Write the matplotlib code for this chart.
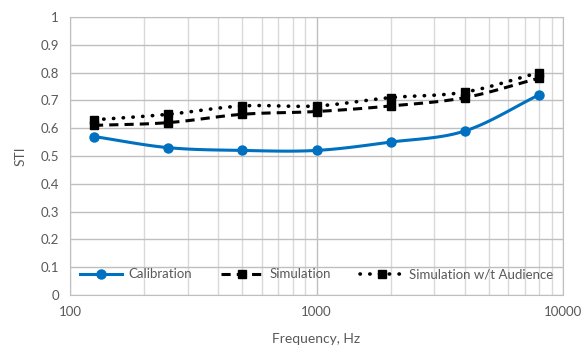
import numpy as np
import matplotlib.pyplot as plt
from matplotlib.ticker import FixedLocator, LogLocator, NullFormatter

# данные
freq = [125, 250, 500, 1000, 2000, 4000, 8000]
calibration = [0.57, 0.53, 0.52, 0.52, 0.55, 0.59, 0.72]
simulation = [0.61, 0.62, 0.65, 0.66, 0.68, 0.71, 0.78]
sim_audience = [0.63, 0.65, 0.68, 0.68, 0.71, 0.73, 0.80]


def smooth(x, y, n=20):
    # сглаживание как в Excel (Catmull-Rom в лог. масштабе)
    lx = np.log10(x)
    y = np.asarray(y, float)
    px = np.concatenate([[2 * lx[0] - lx[1]], lx, [2 * lx[-1] - lx[-2]]])
    py = np.concatenate([[2 * y[0] - y[1]], y, [2 * y[-1] - y[-2]]])
    xs, ys = [], []
    t = np.linspace(0, 1, n)
    for i in range(1, len(px) - 2):
        for p, out in ((px, xs), (py, ys)):
            p0, p1, p2, p3 = p[i - 1], p[i], p[i + 1], p[i + 2]
            out.extend(0.5 * (2 * p1 + (-p0 + p2) * t + (2 * p0 - 5 * p1 + 4 * p2 - p3) * t ** 2
                              + (-p0 + 3 * p1 - 3 * p2 + p3) * t ** 3))
    return 10 ** np.array(xs), np.array(ys)


plt.rcParams['font.family'] = ['Lato', 'DejaVu Sans']
grey = '#595959'

fig, ax = plt.subplots(figsize=(5.84, 3.47), dpi=100)
fig.subplots_adjust(left=0.12, right=0.964, top=0.951, bottom=0.150)

series = [
    (calibration, 'Calibration', dict(color='#0070C0', ls='-', marker='o', ms=6.5, lw=2.2, cap='butt')),
    (simulation, 'Simulation', dict(color='black', ls=(0, (3, 2)), marker='s', ms=5.8, lw=2.2, cap='butt')),
    (sim_audience, 'Simulation w/t Audience', dict(color='black', ls=(0, (0.1, 2.6)), marker='s', ms=5.8,
                                                   lw=2.6, cap='round')),
]
for vals, name, st in series:
    sx, sy = smooth(freq, vals)
    ax.plot(sx, sy, color=st['color'], ls=st['ls'], lw=st['lw'], dash_capstyle=st['cap'])
    ax.plot(freq, vals, ls='none', marker=st['marker'], ms=st['ms'], color=st['color'])
    ax.plot([], [], color=st['color'], ls=st['ls'], lw=st['lw'], marker=st['marker'], ms=st['ms'],
            label=name, dash_capstyle=st['cap'])

ax.set_xscale('log')
ax.set_xlim(100, 10000)
ax.set_ylim(0, 1)
ax.set_yticks(np.arange(0, 1.01, 0.1))
ax.set_yticklabels(['0'] + [f'{v:.1f}' for v in np.arange(0.1, 0.95, 0.1)] + ['1'])
ax.xaxis.set_major_locator(FixedLocator([100, 1000, 10000]))
ax.set_xticklabels(['100', '1000', '10000'])
ax.xaxis.set_minor_locator(LogLocator(base=10, subs=np.arange(2, 10)))
ax.xaxis.set_minor_formatter(NullFormatter())

ax.grid(True, which='major', color='#bfbfbf', lw=1)
ax.grid(True, which='minor', axis='x', color='#d9d9d9', lw=1)
ax.set_axisbelow(True)
for s in ax.spines.values():
    s.set_color('#bfbfbf')
ax.tick_params(which='both', length=0, colors=grey, labelsize=9.5, pad=8)

ax.set_xlabel('Frequency, Hz', color=grey, fontsize=10, labelpad=11)
ax.set_ylabel('STI', color=grey, fontsize=10, labelpad=10)

leg = ax.legend(loc='lower center', bbox_to_anchor=(0.5, 0.01), ncol=3, frameon=False,
                fontsize=9.5, handlelength=3.2, columnspacing=2.2, handletextpad=0.5)
for t in leg.get_texts():
    t.set_color(grey)

fig.savefig('out.png', dpi=100)
